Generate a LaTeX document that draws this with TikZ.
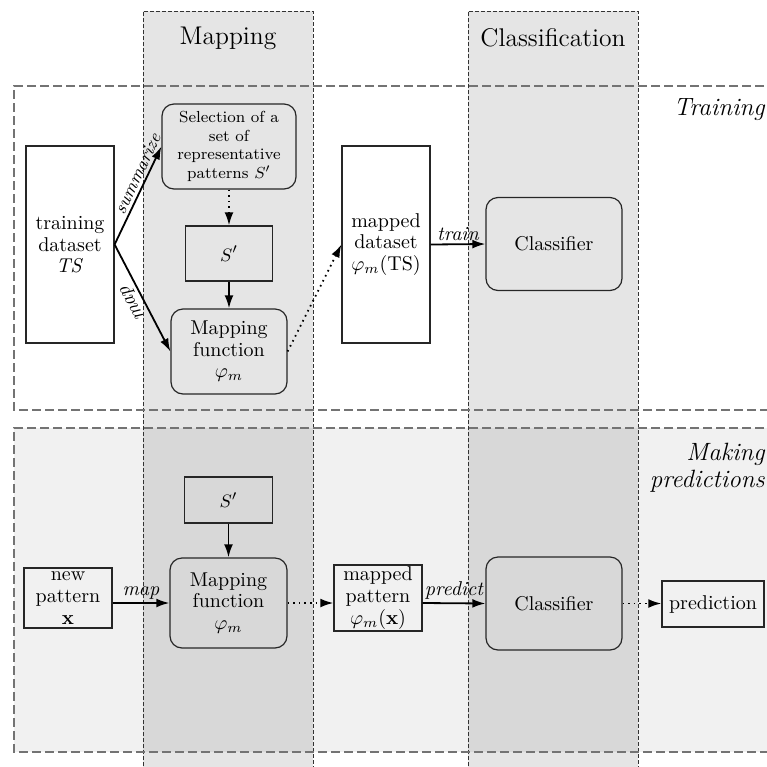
\documentclass[tikz,border=0pt]{standalone}
\usetikzlibrary{arrows.meta}
\begin{document}
\begin{tikzpicture}[x=0.5pt,y=-0.5pt,
  box/.style={draw=black!85, line width=0.6pt, align=center, inner sep=1pt, font=\fontsize{10}{10.8}\selectfont},
  rbox/.style={box, rounded corners=6pt},
  solidarrow/.style={line width=0.9pt, -{Latex[length=6.5pt,width=4.4pt]}},
  dotarrow/.style={line width=0.9pt, dash pattern=on 0.8pt off 2pt, -{Latex[length=6.5pt,width=4.4pt]}},
  lbl/.style={font=\itshape\fontsize{10}{12}\selectfont, inner sep=1.5pt},
  colborder/.style={draw=black!80, line width=0.45pt, dash pattern=on 2pt off 1pt},
  groupborder/.style={draw=black!55, line width=0.7pt, dash pattern=on 4.5pt off 2pt},
  title/.style={font=\fontsize{12.8}{15}\selectfont, inner sep=0pt},
  grouptitle/.style={font=\itshape\fontsize{12.5}{13.5}\selectfont, inner sep=0pt, align=right},
]
\clip (0,0) rectangle (767,767);
% backgrounds
\fill[black!10] (143,11) rectangle (313,790);
\fill[black!10] (468,11) rectangle (638,790);
\fill[black, fill opacity=0.055] (14,428) rectangle (790,752);
\draw[colborder] (143,790) -- (143,11) -- (313,11) -- (313,790);
\draw[colborder] (468,790) -- (468,11) -- (638,11) -- (638,790);
\draw[groupborder] (790,86) -- (14,86) -- (14,410) -- (790,410);
\draw[groupborder] (790,428) -- (14,428) -- (14,752) -- (790,752);

% titles
\node[title] (tmap) at (228,38) {Mapping};
\node[title] (tcls) at (553,38) {Classification};
\node[grouptitle, anchor=east] (ttrain) at (765,110) {Training};
\node[grouptitle, anchor=east] (tpred) at (765,468) {Making\\predictions};

% training row
\node[box, minimum width=44pt, minimum height=98.5pt] (TS) at (70,244.5) {training\\dataset\\$\mathit{TS}$};
\node[rbox, minimum width=67pt, minimum height=42.5pt, font=\fontsize{8}{9.2}\selectfont] (Sel) at (229,146.5) {Selection of a\\set of\\representative\\patterns $S'$};
\node[box, minimum width=43.5pt, minimum height=27.5pt, font=\fontsize{9.5}{11}\selectfont] (S1) at (229,253.5) {$S'$};
\node[rbox, minimum width=58pt, minimum height=42.5pt] (MF1) at (229,351.5) {Mapping\\function\\$\varphi_m$};
\node[box, minimum width=44pt, minimum height=98.5pt] (MD) at (386,244.5) {mapped\\dataset\\$\varphi_m$(TS)};
\node[rbox, minimum width=68pt, minimum height=46.5pt] (CL1) at (554,244) {Classifier};

\draw[solidarrow] (TS.east) -- node[lbl, pos=0.68, sloped, above, font=\itshape\fontsize{9}{10}\selectfont] {summarize} (Sel.west);
\draw[solidarrow] (TS.east) -- node[lbl, midway, rotate=118, anchor=south] {map} (MF1.west);
\draw[dotarrow] (Sel.south) -- (S1.north);
\draw[solidarrow] (S1.south) -- (MF1.north);
\draw[dotarrow] (MF1.east) -- (MD.west);
\draw[solidarrow] (MD.east) -- node[lbl, above] {train} (CL1.west);

% prediction row
\node[box, minimum width=44pt, minimum height=23pt, font=\fontsize{9.5}{11}\selectfont] (S2) at (228.5,500) {$S'$};
\node[rbox, minimum width=58.5pt, minimum height=45pt] (MF2) at (228.5,603) {Mapping\\function\\$\varphi_m$};
\node[box, minimum width=44pt, minimum height=30pt] (NP) at (68,598) {new\\pattern\\$\mathbf{x}$};
\node[box, minimum width=44pt, minimum height=30pt] (MP) at (378,598) {mapped\\pattern\\$\varphi_m(\mathbf{x})$};
\node[rbox, minimum width=68pt, minimum height=46.5pt] (CL2) at (554,603.5) {Classifier};
\node[box, minimum width=51pt, minimum height=23pt] (PR) at (713,604) {prediction};

\draw[solidarrow] (S2.south) -- (MF2.north);
\draw[solidarrow] (NP.east |- MF2.west) -- node[lbl, above] {map} (MF2.west);
\draw[dotarrow] (MF2.east) -- (MP.west |- MF2.east);
\draw[solidarrow] (MP.east |- MF2.east) -- node[lbl, above] {predict} (CL2.west);
\draw[dotarrow] (CL2.east) -- (PR.west |- CL2.east);
\end{tikzpicture}
\end{document}
